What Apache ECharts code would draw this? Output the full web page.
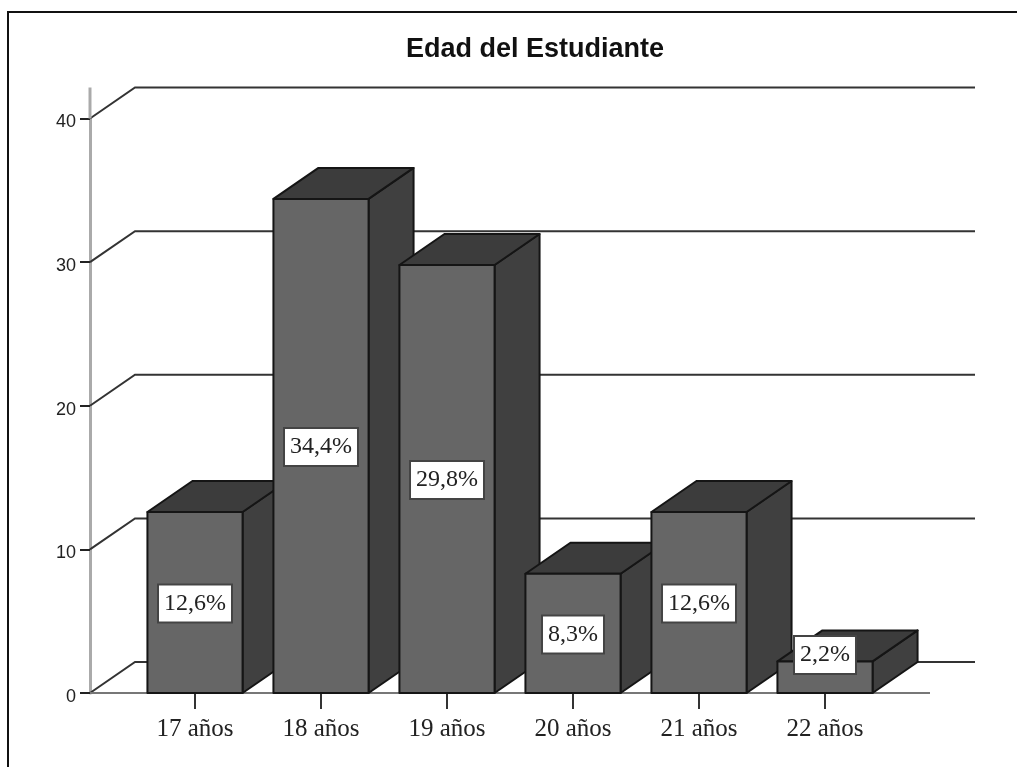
<!DOCTYPE html>
<html><head><meta charset="utf-8">
<style>html,body{margin:0;padding:0;background:#fff}#c{width:1017px;height:767px}</style>
<script src="https://cdn.jsdelivr.net/npm/echarts@6/dist/echarts.min.js"></script>
</head><body><div id="c"></div>
<script>
const categories = ['17 años','18 años','19 años','20 años','21 años','22 años'];
const values = [12.6,34.4,29.8,8.3,12.6,2.2];
const valueLabels = ['12,6%','34,4%','29,8%','8,3%','12,6%','2,2%'];
const wallTicks = [0,10,20,30,40];
const title = 'Edad del Estudiante';

const DX = 45, DY = -31, LEFT = 132, WIDTH = 756, TOP = 118.5, BOTTOM = 74, AXIS_X = 90;

const chart = echarts.init(document.getElementById('c'), null, {renderer:'canvas'});
chart.setOption({
  animation:false,
  backgroundColor:'#fff',
  title:{text:title,left:530,top:31,textAlign:'center',
    textStyle:{fontFamily:'Liberation Sans',fontWeight:'bold',fontSize:27,color:'#111'}},
  grid:{left:LEFT,width:WIDTH,top:TOP,bottom:BOTTOM,containLabel:false},
  xAxis:{type:'category',data:categories,
    axisLine:{show:true,lineStyle:{color:'#777',width:2}},
    axisTick:{show:true,alignWithLabel:true,interval:0,length:16,lineStyle:{color:'#333',width:2}},
    axisLabel:{margin:24,fontFamily:'Liberation Serif',fontSize:25,color:'#222',interval:0}},
  yAxis:{type:'value',min:0,max:40,interval:10,offset:LEFT-AXIS_X,
    splitLine:{show:false},
    axisLine:{show:true,lineStyle:{color:'#aaa',width:3}},
    axisTick:{show:true,length:10,lineStyle:{color:'#222',width:2}},
    axisLabel:{margin:14,formatter:'{a|{value}}',
      rich:{a:{fontFamily:'Liberation Sans',fontSize:18,color:'#222',padding:[8,0,0,0]}}}},
  graphic:[{type:'polyline',silent:true,z:100,
    shape:{points:[[8,767],[8,12],[1017,12]]},
    style:{stroke:'#111',lineWidth:2,fill:null}}],
  series:[
    {type:'custom',name:'walls',data:wallTicks,z:1,clip:false,
     encode:{y:0},
     renderItem(params,api){
       const y = api.coord([0,api.value(0)])[1];
       const v = api.value(0);
       const children = [{type:'polyline',shape:{points:[[AXIS_X,y],[AXIS_X+DX,y+DY],[975,y+DY]]},
         style:{stroke:'#333',lineWidth:2,fill:null}}];
       if(v===0) children.push({type:'line',shape:{x1:AXIS_X,y1:y,x2:930,y2:y},style:{stroke:'#777',lineWidth:2}});
       if(v===40) children.push({type:'line',shape:{x1:AXIS_X,y1:y,x2:AXIS_X,y2:y+DY},style:{stroke:'#aaa',lineWidth:3}});
       return {type:'group',children};
     }},
    {type:'custom',name:'Edad',data:values.map((v,i)=>[i,v]),z:3,clip:false,
     encode:{x:0,y:1},
     renderItem(params,api){
       const i = api.value(0), v = api.value(1);
       const top = api.coord([i,v]), base = api.coord([i,0]);
       const w = api.size([1,0])[0]*0.755;
       const l = top[0]-w/2, r = top[0]+w/2, t = top[1], b = base[1];
       const s = {stroke:'#151515',lineWidth:2,lineJoin:'round'};
       return {type:'group',children:[
         {type:'polygon',shape:{points:[[r,t],[r+DX,t+DY],[r+DX,b+DY],[r,b]]},style:{fill:'#404040',...s}},
         {type:'polygon',shape:{points:[[l,t],[l+DX,t+DY],[r+DX,t+DY],[r,t]]},style:{fill:'#3c3c3c',...s}},
         {type:'rect',shape:{x:l,y:t,width:w,height:b-t},style:{fill:'#666666',...s}}
       ]};
     }},
    {type:'custom',name:'labels',data:values.map((v,i)=>[i,v]),z:5,clip:false,
     encode:{x:0,y:1},
     renderItem(params,api){
       const i = api.value(0), v = api.value(1);
       const top = api.coord([i,v]), base = api.coord([i,0]);
       const t = top[1], b = base[1];
       const cy = (b-t) < 40 ? b-38 : (t+b)/2+1;
       return {type:'text',x:top[0],y:cy,style:{text:valueLabels[i],
         font:'24px "Liberation Serif"',fill:'#222',align:'center',verticalAlign:'middle',
         backgroundColor:'#fff',borderColor:'#444',borderWidth:2,padding:[6,5,6,5]}};
     }}
  ]
});
</script></body></html>
